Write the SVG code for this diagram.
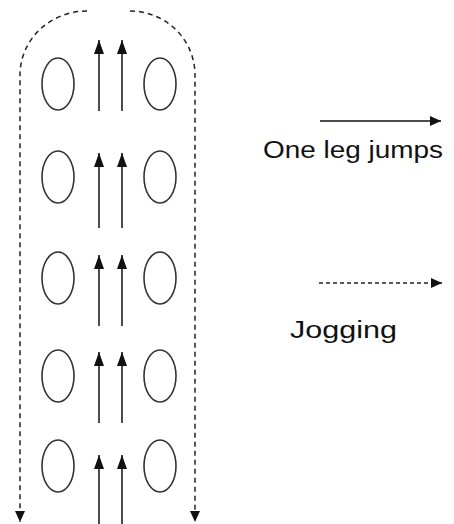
<svg xmlns="http://www.w3.org/2000/svg" width="454" height="524" viewBox="0 0 454 524">
<style>
.pos{fill:none;stroke:#333;stroke-width:1.6}
.jump{fill:none;stroke:#111;stroke-width:1.5}
.jog{fill:none;stroke:#222;stroke-width:1.5;stroke-dasharray:5 4}
.lbl{font-family:"Liberation Sans",Arial,sans-serif;font-size:23px;fill:#111}
</style>
<defs>
<marker id="ah" markerUnits="userSpaceOnUse" markerWidth="15" markerHeight="10" refX="14" refY="5" orient="auto">
<path d="M0,0 L14,5 L0,10 Z" fill="#111"/>
</marker>
<marker id="ahs" markerUnits="userSpaceOnUse" markerWidth="12" markerHeight="10" refX="11" refY="5" orient="auto">
<path d="M0,0 L11,5 L0,10 Z" fill="#111"/>
</marker>
</defs>
<rect width="454" height="524" fill="#fff"/>
<g id="row1"><ellipse class="pos" cx="58" cy="84" rx="16" ry="26"/><ellipse class="pos" cx="160" cy="84" rx="16" ry="26"/></g>
<g id="row2"><ellipse class="pos" cx="58" cy="177" rx="16" ry="26"/><ellipse class="pos" cx="160" cy="177" rx="16" ry="26"/></g>
<g id="row3"><ellipse class="pos" cx="58" cy="278" rx="16" ry="26"/><ellipse class="pos" cx="160" cy="278" rx="16" ry="26"/></g>
<g id="row4"><ellipse class="pos" cx="58" cy="376" rx="16" ry="26"/><ellipse class="pos" cx="160" cy="376" rx="16" ry="26"/></g>
<g id="row5"><ellipse class="pos" cx="58" cy="466" rx="16" ry="26"/><ellipse class="pos" cx="160" cy="466" rx="16" ry="26"/></g>
<g id="connectors">
<path class="jump" d="M99,111 V40" marker-end="url(#ah)"/>
<path class="jump" d="M122,111 V40" marker-end="url(#ah)"/>
<path class="jump" d="M99,228 V153" marker-end="url(#ah)"/>
<path class="jump" d="M122,228 V153" marker-end="url(#ah)"/>
<path class="jump" d="M99,326 V255" marker-end="url(#ah)"/>
<path class="jump" d="M122,326 V255" marker-end="url(#ah)"/>
<path class="jump" d="M99,423 V352" marker-end="url(#ah)"/>
<path class="jump" d="M122,423 V352" marker-end="url(#ah)"/>
<path class="jump" d="M99,524 V455" marker-end="url(#ah)"/>
<path class="jump" d="M122,524 V455" marker-end="url(#ah)"/>
<path class="jog" d="M87,11 A67,64 0 0 0 20,75 V522" marker-end="url(#ahs)"/>
<path class="jog" d="M130,11 A65,64 0 0 1 195,75 V522" marker-end="url(#ahs)"/>
</g>
<g id="legend-jump">
<path class="jump" d="M320,121 H441" marker-end="url(#ahs)"/>
<text class="lbl" x="263" y="158" textLength="180" lengthAdjust="spacingAndGlyphs">One leg jumps</text>
</g>
<g id="legend-jog">
<path class="jog" d="M319,283 H442" style="stroke-dasharray:4 3" marker-end="url(#ahs)"/>
<text class="lbl" x="290" y="338" textLength="107" lengthAdjust="spacingAndGlyphs">Jogging</text>
</g>
</svg>
